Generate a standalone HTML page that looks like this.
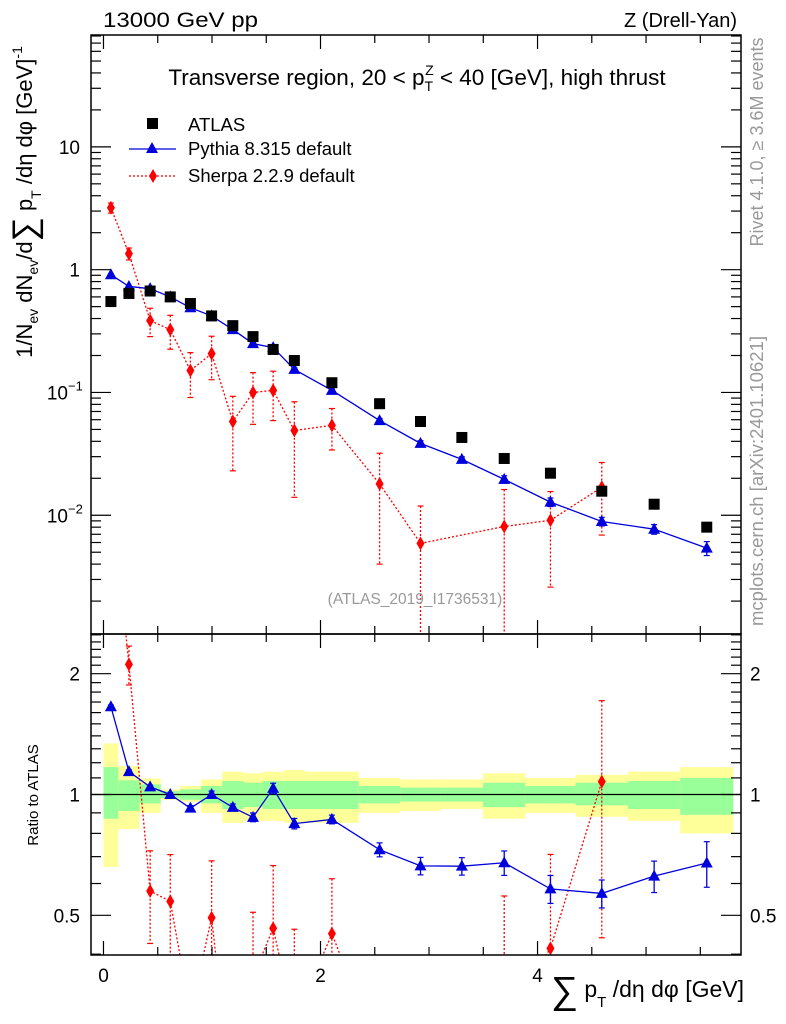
<!DOCTYPE html>
<html><head><meta charset="utf-8"><style>
html,body{margin:0;background:#fff;width:786px;height:1024px;overflow:hidden;position:relative;}
svg{display:block;font-family:"Liberation Sans",sans-serif;}
</style></head><body>
<svg id="c" width="786" height="1024" viewBox="0 0 786 1024"></svg>
<script>
const binEdges=[0,0.137,0.332,0.528,0.703,0.899,1.094,1.29,1.466,1.661,1.857,2.353,2.736,3.107,3.498,3.888,4.35,4.834,5.315,5.804];
const atlasVals=[0.55,0.64,0.67,0.60,0.53,0.42,0.35,0.285,0.224,0.182,0.12,0.081,0.058,0.043,0.029,0.022,0.0157,0.0123,0.008];
const pythiaVals=[0.91,0.73,0.70,0.60,0.49,0.42,0.325,0.25,0.232,0.154,0.104,0.059,0.0385,0.0285,0.0196,0.0128,0.0089,0.0077,0.0054];
const pythiaRelErr=[0.01,0.01,0.01,0.01,0.015,0.02,0.02,0.025,0.03,0.03,0.025,0.04,0.05,0.05,0.07,0.08,0.08,0.09,0.13];
const sherpaVals=[3.19,1.35,0.385,0.325,0.151,0.207,0.058,0.1,0.104,0.049,0.054,0.018,0.0059,null,0.0081,0.0091,0.0169,null,null];
const sherpaErr=[0.3,0.15,0.1,0.1,0.06,0.08,0.035,0.045,0.045,0.035,0.02,0.014,0.006,null,0.0081,0.0065,0.01,null,null];
const bandYellowUp=[1.34,1.177,1.096,1.03,1.05,1.09,1.14,1.13,1.14,1.15,1.14,1.1,1.09,1.09,1.13,1.1,1.12,1.14,1.17];
const bandYellowDn=[0.66,0.82,0.90,0.97,0.96,0.90,0.85,0.86,0.86,0.85,0.85,0.9,0.91,0.92,0.87,0.9,0.88,0.86,0.80];
const bandGreenUp=[1.17,1.085,1.06,1.02,1.03,1.05,1.08,1.07,1.08,1.08,1.08,1.05,1.04,1.04,1.07,1.05,1.07,1.08,1.1];
const bandGreenDn=[0.87,0.91,0.95,0.98,0.97,0.95,0.92,0.93,0.92,0.92,0.92,0.95,0.96,0.96,0.93,0.95,0.94,0.92,0.89];
const xTicks=[0,2,4];
const mainTickLabels=[[1,"10"],[0,"1"],[-1,"10","−1"],[-2,"10","−2"]];
const ratioTickLabels=[[2,"2"],[1,"1"],[0.5,"0.5"]];

const L=91,R=741,T=35,MB=634,RT=634,RB=955;
const X0=-0.115,X1=5.875;
const MY0=-2.967,MY1=1.911;
const RY0=-0.4,RY1=0.4;
const sx=v=>L+(v-X0)/(X1-X0)*(R-L);
const sy=v=>MB-(Math.log10(v)-MY0)/(MY1-MY0)*(MB-T);
const sr=v=>RB-(Math.log10(v)-RY0)/(RY1-RY0)*(RB-RT);
const svg=document.getElementById('c');
const NS='http://www.w3.org/2000/svg';
function mk(tag,attrs,parent){const e=document.createElementNS(NS,tag);for(const k in attrs)e.setAttribute(k,attrs[k]);(parent||svg).appendChild(e);return e;}
function txt(s,x,y,size,anchor,fill,parent){const t=mk('text',{x:x,y:y,'font-size':size,'text-anchor':anchor||'start',fill:fill||'#000'},parent);t.textContent=s;return t;}
const centers=atlasVals.map((v,i)=>(binEdges[i]+binEdges[i+1])/2);

const bands=mk('g',{});


atlasVals.forEach((v,i)=>{
  const x1=sx(binEdges[i]),x2=sx(binEdges[i+1]);
  const y=mk('rect',{x:x1,y:sr(bandYellowUp[i]),width:x2-x1,height:sr(bandYellowDn[i])-sr(bandYellowUp[i]),fill:'#ffff99'},bands);
  
  
  const g=mk('rect',{x:x1,y:sr(bandGreenUp[i]),width:x2-x1,height:sr(bandGreenDn[i])-sr(bandGreenUp[i]),fill:'#99ff99'},bands);
  
  
});
mk('line',{x1:L,x2:R,y1:sr(1),y2:sr(1),stroke:'#000','stroke-width':1.2});

const defs=mk('defs',{});
const cm=mk('clipPath',{id:'cm'},defs);mk('rect',{x:L,y:T,width:R-L,height:MB-T},cm);
const cr=mk('clipPath',{id:'cr'},defs);mk('rect',{x:L,y:RT,width:R-L,height:RB-RT},cr);

function series(vals,errsAbs,fy,color,dash,marker,clip,name){
  const g=mk('g',{'clip-path':'url(#'+clip+')'});
  
  
  let pts=[];
  vals.forEach((v,i)=>{if(v!=null&&v>0)pts.push(sx(centers[i])+','+fy(v,i));});
  if(color!=='#000')mk('polyline',{points:pts.join(' '),fill:'none',stroke:color,'stroke-width':1.3,'stroke-dasharray':dash||'none'},g);
  vals.forEach((v,i)=>{
    if(v==null||v<=0)return;
    const x=sx(centers[i]),y=fy(v,i);
    if(errsAbs&&errsAbs[i]!=null){
      const hi=fy(v+errsAbs[i],i),lo=(v-errsAbs[i]>0)?fy(v-errsAbs[i],i):1100;
      mk('line',{x1:x,x2:x,y1:hi,y2:Math.min(lo,1000),stroke:color,'stroke-width':1.3,'stroke-dasharray':dash||'none'},g);
      mk('line',{x1:x-3,x2:x+3,y1:hi,y2:hi,stroke:color,'stroke-width':1.2},g);
      if(lo<1100)mk('line',{x1:x-3,x2:x+3,y1:lo,y2:lo,stroke:color,'stroke-width':1.2},g);
    }
    let m;
    if(marker==='sq')m=mk('rect',{x:x-5.5,y:y-5.5,width:11,height:11,fill:color},g);
    else if(marker==='tri')m=mk('polygon',{points:`${x},${y-6.5} ${x-6},${y+4.5} ${x+6},${y+4.5}`,fill:color},g);
    else m=mk('polygon',{points:`${x},${y-7} ${x-4},${y} ${x},${y+7} ${x+4},${y}`,fill:color},g);
    
    
  });
}
const pyErr=pythiaVals.map((v,i)=>v*pythiaRelErr[i]);
series(sherpaVals,sherpaErr,v=>sy(v),'#ff0000','2,2','dia','cm','sherpa-series');
series(pythiaVals,pyErr,v=>sy(v),'#0000dd',null,'tri','cm','pythia-series');
series(atlasVals,null,v=>sy(v),'#000',null,'sq','cm','atlas-series');
series(sherpaVals.map((v,i)=>v==null?null:v/atlasVals[i]),sherpaErr.map((e,i)=>e==null?null:e/atlasVals[i]),v=>sr(v),'#ff0000','2,2','dia','cr','sherpa-ratio');
series(pythiaVals.map((v,i)=>v/atlasVals[i]),pyErr.map((e,i)=>e/atlasVals[i]),v=>sr(v),'#0000dd',null,'tri','cr','pythia-ratio');

const f1=mk('rect',{x:L,y:T,width:R-L,height:MB-T,fill:'none',stroke:'#000','stroke-width':1.5});

const f2=mk('rect',{x:L,y:RT,width:R-L,height:RB-RT,fill:'none',stroke:'#000','stroke-width':1.5});


for(let v=0;v<=5.8;v+=0.5){
  const x=sx(v),maj=Math.abs(v-Math.round(v/2)*2)<1e-6;
  const l=maj?14:8;
  [[T,T+l],[MB,MB-l],[RT,RT+l],[RB,RB-l]].forEach(p=>mk('line',{x1:x,x2:x,y1:p[0],y2:p[1],stroke:'#000','stroke-width':1.2}));
}
xTicks.forEach(v=>{const t=txt(String(v),sx(v),982,19,'middle');});
for(let d=-3;d<=1;d++){for(let k=1;k<10;k++){const v=k*Math.pow(10,d);const y=sy(v);if(y<T||y>MB)continue;const l=k===1?20:10;
  mk('line',{x1:L,x2:L+l,y1:y,y2:y,stroke:'#000','stroke-width':1.2});mk('line',{x1:R,x2:R-l,y1:y,y2:y,stroke:'#000','stroke-width':1.2});}}
mainTickLabels.forEach(a=>{const y=sy(Math.pow(10,a[0]))+7;
  const t=txt(a[1],a[2]?68:80,y,19,'end');
  
  if(a[2]){const s=txt(a[2],68,y-9,13,'start');}});
[0.4,0.5,0.6,0.7,0.8,0.9,1,1.1,1.2,1.3,1.4,1.5,1.6,1.7,1.8,1.9,2,2.1,2.2,2.3,2.4,2.5].forEach(v=>{const y=sr(v);if(y<RT||y>RB)return;const maj=(v===0.5||v===1||v===2);const l=maj?20:10;
  mk('line',{x1:L,x2:L+l,y1:y,y2:y,stroke:'#000','stroke-width':1.2});mk('line',{x1:R,x2:R-l,y1:y,y2:y,stroke:'#000','stroke-width':1.2});});
ratioTickLabels.forEach(a=>{const y=sr(a[0])+7;
  const t=txt(a[1],80,y,19,'end');
  const t2=txt(a[1],750,y,19,'start');});
</script>
<svg width="786" height="1024" style="position:absolute;left:0;top:0;font-family:'Liberation Sans',sans-serif">
<text x="103" y="27" font-size="21" textLength="155" lengthAdjust="spacingAndGlyphs">13000 GeV pp</text>
<text x="737" y="27" font-size="20" text-anchor="end">Z (Drell-Yan)</text>
<text x="417" y="85" font-size="22.5" text-anchor="middle">Transverse region, 20 &lt; p<tspan font-size="14" dy="6">T</tspan><tspan font-size="14" dx="-8" dy="-16">Z</tspan><tspan dy="10"> &lt; 40 [GeV], high thrust</tspan></text>
<g>
<rect x="147" y="118" width="11" height="11" fill="#000"/>
<text x="188" y="131" font-size="18.5">ATLAS</text>
<line x1="129" x2="176" y1="149" y2="149" stroke="#0000dd" stroke-width="1.3"/>
<polygon points="152,142 146,153 158,153" fill="#0000dd"/>
<text x="188" y="155" font-size="18.5">Pythia 8.315 default</text>
<line x1="129" x2="176" y1="176" y2="176" stroke="#ff0000" stroke-width="1.3" stroke-dasharray="2,2"/>
<polygon points="153,169 149,176 153,183 157,176" fill="#ff0000"/>
<text x="188" y="182" font-size="18.5">Sherpa 2.2.9 default</text>
</g>
<text x="415" y="604" font-size="15.5" fill="#999" text-anchor="middle">(ATLAS_2019_I1736531)</text>
<text transform="translate(763,142) rotate(-90)" font-size="18" fill="#999" text-anchor="middle">Rivet 4.1.0, ≥ 3.6M events</text>
<text transform="translate(763,481) rotate(-90)" font-size="18.5" fill="#999" text-anchor="middle">mcplots.cern.ch [arXiv:2401.10621]</text>
<text transform="translate(32,202) rotate(-90)" font-size="22" text-anchor="middle">1/N<tspan font-size="14" dy="6">ev</tspan><tspan dy="-6"> dN</tspan><tspan font-size="14" dy="6">ev</tspan><tspan dy="-6">/d</tspan><tspan font-size="34" dy="4">∑</tspan><tspan dy="-4"> p</tspan><tspan font-size="14" dy="9">T</tspan><tspan dy="-9"> /dη dφ  [GeV]</tspan><tspan font-size="14" dy="-10">-1</tspan></text>
<text transform="translate(38,795) rotate(-90)" font-size="15" text-anchor="middle">Ratio to ATLAS</text>
<text x="744" y="997" font-size="23" text-anchor="end"><tspan font-size="38" dy="6">∑</tspan><tspan dy="-6"> p</tspan><tspan font-size="15" dy="10">T</tspan><tspan dy="-10"> /dη dφ [GeV]</tspan></text>
</svg>
</body></html>
